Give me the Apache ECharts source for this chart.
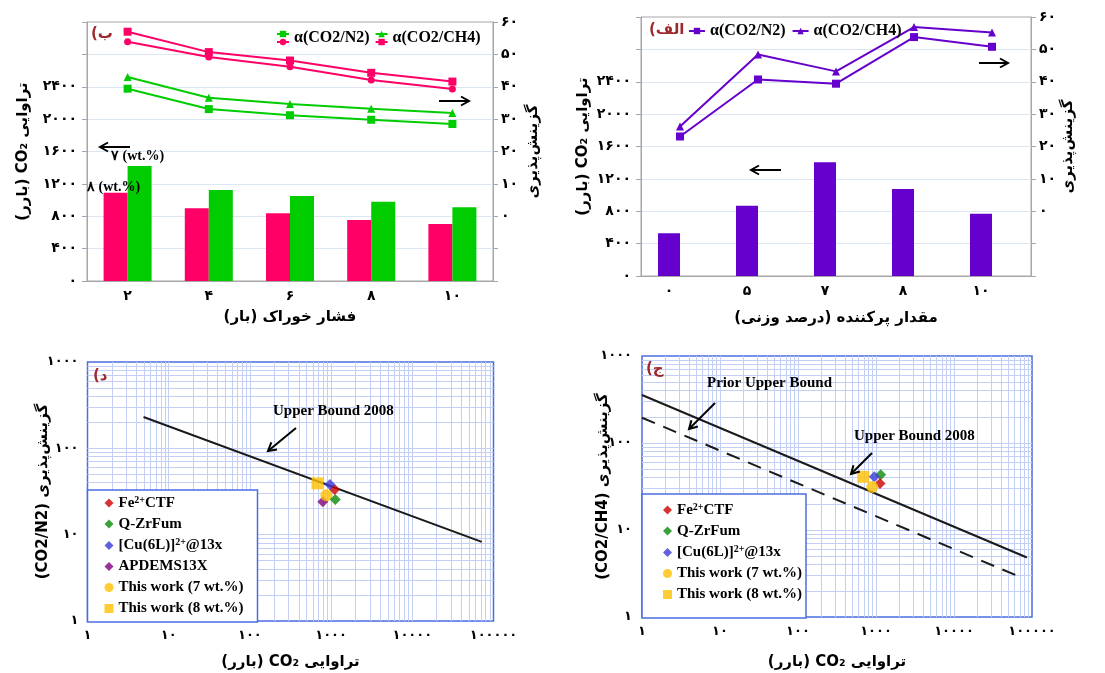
<!DOCTYPE html>
<html><head><meta charset="utf-8">
<script src="https://cdn.jsdelivr.net/npm/echarts@6/dist/echarts.min.js"></script>
<style>html,body{margin:0;padding:0;background:#fff}#c{width:1105px;height:673px}</style>
</head><body><div id="c"></div><script>
// ---------- Data ----------
// Panel (ب): feed pressure (bar)
const pressureCats = ['2', '4', '6', '8', '10'];
const perm8wt = [1090, 898, 836, 753, 704];      // CO2 permeability, 8 wt.% (pink bars)
const perm7wt = [1420, 1124, 1050, 980, 910];    // CO2 permeability, 7 wt.% (green bars)
const selCH4_8wt = [57.0, 50.7, 48.1, 44.3, 41.6];
const selN2_8wt = [53.9, 49.2, 46.2, 42.1, 39.3];
const selCH4_7wt = [43.0, 36.6, 34.7, 33.2, 31.9];
const selN2_7wt = [39.4, 33.1, 31.2, 29.8, 28.5];

// Panel (الف): filler content (wt.%)
const fillerCats = ['0', '5', '7', '8', '10'];
const permFiller = [527, 868, 1404, 1074, 770];
const selN2Filler = [23.1, 40.7, 39.4, 53.8, 50.8];
const selCH4Filler = [26.2, 48.4, 43.2, 56.9, 55.2];

// Panel (د): Robeson CO2/N2  [permeability, selectivity]
const ubN2_2008 = [[4.9, 231], [71600, 8.25]];
const n2_Fe = [[1105, 33.4]];
const n2_QZr = [[1126, 25.6]];
const n2_Cu = [[968, 38.2]];
const n2_APD = [[791, 24.0]];
const n2_tw7 = [[875, 28.7]];
const n2_tw8 = [[680, 39.3]];

// Panel (ج): Robeson CO2/CH4
const ubCH4_2008 = [[1, 356], [86000, 4.83]];
const ubCH4_1991 = [[1, 195], [67100, 2.94]];
const ch4_Fe = [[1125, 34.3]];
const ch4_QZr = [[1148, 43.1]];
const ch4_Cu = [[951, 40.8]];
const ch4_tw7 = [[897, 31.3]];
const ch4_tw8 = [[687, 40.8]];

// ---------- Helpers ----------
const FA = "'DejaVu Sans', sans-serif";
const SERIF = "'Liberation Serif', 'Times New Roman', serif";
const toFa = s => String(s).replace(/\d/g, d => '۰۱۲۳۴۵۶۷۸۹'[+d]);
const rtl = s => '\u202B' + s + '\u202C';
const PINK = '#ff0066', GREEN = '#00cc00', PURPLE = '#6600cc';
const GRAYAX = '#a6a6a6', LIGHTGRID = '#dce6f2', LOGGRID = '#c3cff4', BLUEBORDER = '#4a6ee0';
const RED = '#cc0000', DGREEN = '#0a8a0a', BLUE = '#3a3ad6', VIOLET = '#800080', GOLD = '#ffc000';

function minorVals(decades) {
  const out = [];
  for (let d = 0; d < decades; d++) {
    for (let k = 2; k <= 10; k++) {
      if (d === decades - 1 && k === 10) continue;
      out.push(k * Math.pow(10, d));
    }
  }
  return out;
}
const gridMarks = (xd, yd) => minorVals(xd).map(v => ({ xAxis: v })).concat(minorVals(yd).map(v => ({ yAxis: v })));

const nameStyle = { fontFamily: FA, fontWeight: 'bold', fontSize: 15, color: '#000' };
const tickLbl = { fontFamily: FA, fontWeight: 'bold', fontSize: 14, color: '#000' };
const logLbl = { fontFamily: FA, fontWeight: 'bold', fontSize: 13, color: '#000' };

function catAxis(gi, cats, name, gap, lblExtra) {
  return {
    gridIndex: gi, type: 'category', data: cats,
    axisLine: { lineStyle: { color: GRAYAX } },
    axisTick: { length: 5, lineStyle: { color: GRAYAX } },
    axisLabel: Object.assign({ formatter: toFa, margin: 8 }, tickLbl, lblExtra || {}),
    name: rtl(name), nameLocation: 'middle', nameGap: gap, nameMoveOverlap: false, nameTextStyle: nameStyle
  };
}
function leftVal(gi, gap) {
  return {
    gridIndex: gi, type: 'value', position: 'left', min: 0, max: 3200, interval: 400,
    axisLine: { show: true, lineStyle: { color: GRAYAX } },
    axisTick: { show: true, length: 5, lineStyle: { color: GRAYAX } },
    axisLabel: Object.assign({ formatter: v => (v <= 2400 ? toFa(v) : ''), margin: 10 }, tickLbl),
    splitLine: { show: true, showMinLine: false, showMaxLine: false, lineStyle: { color: LIGHTGRID } },
    name: rtl('تراوایی CO₂ (بارر)'), nameLocation: 'middle', nameRotate: 90, nameGap: gap,
    nameMoveOverlap: false, nameTextStyle: nameStyle
  };
}
function rightVal(gi, gap) {
  return {
    gridIndex: gi, type: 'value', position: 'right', min: -20, max: 60, interval: 10,
    axisLine: { show: true, lineStyle: { color: GRAYAX } },
    axisTick: { show: true, length: 5, lineStyle: { color: GRAYAX } },
    axisLabel: Object.assign({ formatter: v => (v >= 0 ? toFa(v) : ''), margin: 8 }, tickLbl),
    splitLine: { show: false },
    name: 'گزینش‌پذیری', nameLocation: 'middle', nameRotate: 90, nameGap: gap,
    nameMoveOverlap: false, nameTextStyle: nameStyle
  };
}
function logAxis(gi, max, name, gap, rot, margin) {
  const a = {
    gridIndex: gi, type: 'log', logBase: 10, min: 1, max: max,
    axisLine: { show: false }, axisTick: { show: false },
    splitLine: { show: false },
    axisLabel: Object.assign({ formatter: v => toFa(Math.round(v)), margin: margin }, logLbl),
    name: rtl(name), nameLocation: 'middle', nameGap: gap, nameMoveOverlap: false, nameTextStyle: nameStyle
  };
  if (rot !== undefined) a.nameRotate = rot;
  return a;
}
function lineS(name, xi, yi, data, color, symbol, size) {
  return { name, type: 'line', xAxisIndex: xi, yAxisIndex: yi, data, symbol, symbolSize: size,
    itemStyle: { color }, lineStyle: { color, width: 2 }, z: 3, animation: false };
}
function scat(name, xi, yi, data, color, symbol, size) {
  return { name, type: 'scatter', xAxisIndex: xi, yAxisIndex: yi, data, symbol, symbolSize: size,
    itemStyle: { color }, z: 4, animation: false };
}
function gridSeries(xi, yi, xd, yd) {
  return { name: 'grid' + xi, type: 'line', xAxisIndex: xi, yAxisIndex: yi, data: [], z: 1, silent: true,
    animation: false,
    markLine: { silent: true, symbol: 'none', z: 1, animation: false, label: { show: false },
      lineStyle: { color: LOGGRID, width: 1, type: 'solid' }, emphasis: { disabled: true },
      data: gridMarks(xd, yd) } };
}
function arrow(x1, y1, x2, y2, w) {
  const a = Math.atan2(y2 - y1, x2 - x1), L = 8, W = 4.5;
  const bx = x2 - L * Math.cos(a), by = y2 - L * Math.sin(a);
  return { type: 'group', z: 50, children: [
    { type: 'line', z: 50, shape: { x1, y1, x2, y2 }, style: { stroke: '#000', lineWidth: w || 2 } },
    { type: 'polyline', z: 50, shape: { points: [[bx + W * Math.sin(a), by - W * Math.cos(a)], [x2, y2], [bx - W * Math.sin(a), by + W * Math.cos(a)]] },
      style: { stroke: '#000', fill: null, lineWidth: w || 2 } }
  ] };
}
const fmtMap = { gN2: 'α(CO2/N2)', gCH4: 'α(CO2/CH4)', pN2: 'α(CO2/N2)', pCH4: 'α(CO2/CH4)' };
const legRich = {
  t: { fontFamily: SERIF, fontWeight: 'bold', fontSize: 15, color: '#000', lineHeight: 16 },
  s: { fontFamily: SERIF, fontWeight: 'bold', fontSize: 10, color: '#000', lineHeight: 10, verticalAlign: 'top' }
};
const legFmt = n => {
  if (n === 'Fe2+CTF') return '{t|Fe}{s|2+}{t|CTF}';
  if (n === '[Cu(6L)]2+@13x') return '{t|[Cu(6L)]}{s|2+}{t|@13x}';
  return '{t|' + n + '}';
};
const topLegText = { fontFamily: SERIF, fontWeight: 'bold', fontSize: 16 };

const option = {
  backgroundColor: '#fff',
  animation: false,
  grid: [
    { left: 87, top: 22, width: 406, height: 259, show: true, borderColor: GRAYAX, borderWidth: 1 },
    { left: 641, top: 17, width: 390, height: 259, show: true, borderColor: GRAYAX, borderWidth: 1 },
    { left: 87.5, top: 362, width: 406, height: 259, show: true, borderColor: BLUEBORDER, borderWidth: 1.5 },
    { left: 642, top: 356, width: 390, height: 261, show: true, borderColor: BLUEBORDER, borderWidth: 1.5 }
  ],
  xAxis: [
    catAxis(0, pressureCats, 'فشار خوراک (بار)', 29),
    catAxis(1, fillerCats, 'مقدار پرکننده (درصد وزنی)', 35, { padding: [0, 22, 0, 0] }),
    logAxis(2, 100000, 'تراوایی CO₂ (بارر)', 34, undefined, 8),
    logAxis(3, 100000, 'تراوایی CO₂ (بارر)', 38, undefined, 8)
  ],
  yAxis: [
    leftVal(0, 56), rightVal(0, 33),
    leftVal(1, 50), rightVal(1, 30),
    logAxis(2, 1000, 'گزینش‌پذیری (CO2/N2)', 37, 90, 9),
    logAxis(3, 1000, 'گزینش‌پذیری (CO2/CH4)', 31, 90, 10)
  ],
  legend: [
    { data: ['gN2', 'gCH4'], formatter: n => fmtMap[n], left: 276, top: 26, itemWidth: 12, itemHeight: 8, itemGap: 5,
      selectedMode: false, padding: 0, z: 10,
      textStyle: Object.assign({ color: 'rgba(0,0,0,0)' }, topLegText) },
    { data: ['pN2', 'pCH4'], formatter: n => fmtMap[n], left: 276, top: 34, itemWidth: 12, itemHeight: 8, itemGap: 5,
      selectedMode: false, padding: 0, z: 10,
      textStyle: Object.assign({ color: 'rgba(0,0,0,0)' }, topLegText) },
    { data: ['gN2', 'gCH4'], formatter: n => fmtMap[n], left: 276, top: 30, itemWidth: 12, itemHeight: 8, itemGap: 5,
      selectedMode: false, padding: 0, z: 11, itemStyle: { opacity: 0 }, lineStyle: { opacity: 0 },
      textStyle: Object.assign({ color: '#000' }, topLegText) },
    { data: ['α(CO2/N2)', 'α(CO2/CH4)'], left: 688, top: 23, itemWidth: 16, itemHeight: 8, itemGap: 6, itemTextGap: 3,
      selectedMode: false, padding: 0, z: 10,
      textStyle: Object.assign({ color: '#000' }, topLegText) },
    { data: ['Fe2+CTF', 'Q-ZrFum', '[Cu(6L)]2+@13x', 'APDEMS13X', 'This work (7 wt.%)', 'This work (8 wt.%)'],
      orient: 'vertical', left: 87.5, top: 490, itemWidth: 9, itemHeight: 9, itemGap: 6, itemTextGap: 5,
      selectedMode: false, padding: [5, 14, 6, 17], backgroundColor: '#fff', borderColor: BLUEBORDER, borderWidth: 1.5,
      z: 10, formatter: legFmt, textStyle: { rich: legRich } },
    { data: ['Fe2+CTF', 'Q-ZrFum', '[Cu(6L)]2+@13x', 'This work (7 wt.%)', 'This work (8 wt.%)'],
      orient: 'vertical', left: 642, top: 494, itemWidth: 9, itemHeight: 9, itemGap: 6, itemTextGap: 6,
      selectedMode: false, padding: [8, 4, 16, 21], backgroundColor: '#fff', borderColor: BLUEBORDER, borderWidth: 1.5,
      z: 10, formatter: legFmt, textStyle: { rich: legRich } }
  ],
  series: [
    // panel ب
    { name: 'p8', type: 'bar', xAxisIndex: 0, yAxisIndex: 0, data: perm8wt, barWidth: 24, barGap: '0%', itemStyle: { color: PINK }, z: 2 },
    { name: 'g7', type: 'bar', xAxisIndex: 0, yAxisIndex: 0, data: perm7wt, barWidth: 24, barGap: '0%', itemStyle: { color: GREEN }, z: 2 },
    lineS('pCH4', 0, 1, selCH4_8wt, PINK, 'rect', 8),
    lineS('pN2', 0, 1, selN2_8wt, PINK, 'circle', 7),
    lineS('gCH4', 0, 1, selCH4_7wt, GREEN, 'triangle', 8),
    lineS('gN2', 0, 1, selN2_7wt, GREEN, 'rect', 8),
    // panel الف
    { name: 'permF', type: 'bar', xAxisIndex: 1, yAxisIndex: 2, data: permFiller, barWidth: 22, barGap: '0%', itemStyle: { color: PURPLE }, z: 2 },
    { name: 'spacer', type: 'bar', xAxisIndex: 1, yAxisIndex: 2, data: [], barWidth: 22, barGap: '0%' },
    lineS('α(CO2/N2)', 1, 3, selN2Filler, PURPLE, 'rect', 8),
    lineS('α(CO2/CH4)', 1, 3, selCH4Filler, PURPLE, 'triangle', 8),
    // panel د
    gridSeries(2, 4, 5, 3),
    { name: 'ub2008N2', type: 'line', xAxisIndex: 2, yAxisIndex: 4, data: ubN2_2008, symbol: 'none',
      lineStyle: { color: '#1a1a1a', width: 2 }, z: 3 },
    scat('This work (8 wt.%)', 2, 4, n2_tw8, GOLD, 'rect', 12),
    scat('APDEMS13X', 2, 4, n2_APD, VIOLET, 'diamond', 11),
    scat('This work (7 wt.%)', 2, 4, n2_tw7, GOLD, 'circle', 12),
    scat('Q-ZrFum', 2, 4, n2_QZr, DGREEN, 'diamond', 11),
    scat('Fe2+CTF', 2, 4, n2_Fe, RED, 'diamond', 11),
    scat('[Cu(6L)]2+@13x', 2, 4, n2_Cu, BLUE, 'diamond', 11),
    // panel ج
    gridSeries(3, 5, 5, 3),
    { name: 'ub2008CH4', type: 'line', xAxisIndex: 3, yAxisIndex: 5, data: ubCH4_2008, symbol: 'none',
      lineStyle: { color: '#1a1a1a', width: 2 }, z: 3 },
    { name: 'ub1991CH4', type: 'line', xAxisIndex: 3, yAxisIndex: 5, data: ubCH4_1991, symbol: 'none',
      lineStyle: { color: '#1a1a1a', width: 2, type: [14, 9] }, z: 3 },
    scat('This work (8 wt.%)', 3, 5, ch4_tw8, GOLD, 'rect', 12),
    scat('Q-ZrFum', 3, 5, ch4_QZr, DGREEN, 'diamond', 11),
    scat('[Cu(6L)]2+@13x', 3, 5, ch4_Cu, BLUE, 'diamond', 11),
    scat('Fe2+CTF', 3, 5, ch4_Fe, RED, 'diamond', 11),
    scat('This work (7 wt.%)', 3, 5, ch4_tw7, GOLD, 'circle', 12)
  ],
  graphic: [
    { type: 'text', left: 91, top: 27, z: 50, style: { text: rtl('ب)'), fill: '#9e2a2f', font: 'bold 15px ' + FA } },
    { type: 'text', left: 649, top: 23, z: 50, style: { text: rtl('الف)'), fill: '#9e2a2f', font: 'bold 15px ' + FA } },
    { type: 'text', left: 93, top: 369, z: 50, style: { text: rtl('د)'), fill: '#9e2a2f', font: 'bold 15px ' + FA } },
    { type: 'text', left: 646, top: 362, z: 50, style: { text: rtl('ج)'), fill: '#9e2a2f', font: 'bold 15px ' + FA } },
    { type: 'text', left: 111, top: 149, z: 50, style: { text: '۷ (wt.%)', fill: '#000', font: 'bold 14px ' + SERIF } },
    { type: 'text', left: 87, top: 180, z: 50, style: { text: '۸ (wt.%)', fill: '#000', font: 'bold 14px ' + SERIF } },
    { type: 'text', left: 273, top: 404, z: 50, style: { text: 'Upper Bound 2008', fill: '#000', font: 'bold 15px ' + SERIF } },
    { type: 'text', left: 707, top: 376, z: 50, style: { text: 'Prior Upper Bound', fill: '#000', font: 'bold 15px ' + SERIF } },
    { type: 'text', left: 854, top: 429, z: 50, style: { text: 'Upper Bound 2008', fill: '#000', font: 'bold 15px ' + SERIF } },
    arrow(439, 101, 469, 101),
    arrow(130, 147, 100, 147),
    arrow(979, 63, 1008, 63),
    arrow(781, 170, 751, 170),
    arrow(296, 428, 268, 451),
    arrow(715, 403, 689, 429),
    arrow(872, 453, 851, 474)
  ]
};
const chart = echarts.init(document.getElementById('c'), null, { renderer: 'canvas' });
chart.setOption(option);
</script></body></html>
